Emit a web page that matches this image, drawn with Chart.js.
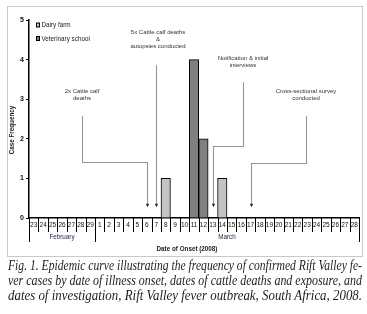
<!DOCTYPE html>
<html>
<head>
<meta charset="utf-8">
<script src="https://cdn.jsdelivr.net/npm/chart.js@4/dist/chart.umd.min.js"></script>
<style>
  html, body { margin: 0; padding: 0; background: #fff; }
  #wrap { position: relative; width: 367px; height: 314px; overflow: hidden; }
  #frame { position: absolute; left: 7px; top: 6px; width: 356px; height: 251px;
           box-sizing: border-box; border: 1px solid #c9c9c9; }
  #c { position: absolute; left: 0; top: 0; }
  .cap { position: absolute; left: 8px; height: 15px; line-height: 15px;
         font-family: "Liberation Serif", "DejaVu Serif", serif; font-style: italic;
         font-size: 13.8px; color: #1c1c1c; white-space: nowrap; }
  .cap span { display: inline-block; transform-origin: 0 0; }
</style>
</head>
<body>
<div id="wrap">
  <div id="frame"></div>
  <canvas id="c" width="367" height="314"></canvas>
  <div class="cap" style="top:258px"><span>Fig. 1. Epidemic curve illustrating the frequency of confirmed Rift Valley fe-</span></div>
  <div class="cap" style="top:273px"><span>ver cases by date of illness onset, dates of cattle deaths and exposure, and</span></div>
  <div class="cap" style="top:288px"><span>dates of investigation, Rift Valley fever outbreak, South Africa, 2008.</span></div>
</div>
<script>
// days of onset, 23 Feb - 28 Mar 2008
const days = ['23','24','25','26','27','28','29',
  '1','2','3','4','5','6','7','8','9','10','11','12','13','14',
  '15','16','17','18','19','20','21','22','23','24','25','26','27','28'];
const monthNames = ['February', 'March'];
const monthLengths = [7, 28];

// cases per day (null = none)
const dairyFarm = [null,null,null,null,null,null,null,
  null,null,null,null,null,null,null,1,null,null,null,null,null,1,
  null,null,null,null,null,null,null,null,null,null,null,null,null,null];
const vetSchool = [null,null,null,null,null,null,null,
  null,null,null,null,null,null,null,null,null,null,4,2,null,null,
  null,null,null,null,null,null,null,null,null,null,null,null,null,null];

const seriesNames = ['Dairy farm', 'Veterinary school'];
const yTicks = [0, 1, 2, 3, 4, 5];

// events and the day index they point at
const eventTexts = [
  ['2x Cattle calf', 'deaths'],
  ['5x Cattle calf deaths', '&', 'autopsies conducted'],
  ['Notification & initial', 'interviews'],
  ['Cross-sectional survey', 'conducted']
];
const eventDays = [12, 13, 19, 23];   // 6 Mar, 7 Mar, 13 Mar, 17 Mar

// callout layout in axis units (x = category index, y = case count)
const calloutLayout = [
  { tx: 5.12,  ty: 3.21, top: 2.58, elbow: 1.41 },
  { tx: 13.18, ty: 4.70, top: 3.86, elbow: null },
  { tx: 22.2,  ty: 4.04, top: 3.43, elbow: 1.83 },
  { tx: 28.88, ty: 3.21, top: 2.58, elbow: 1.40 }
];
const tipValue = 0.27;

const SANS = '"Liberation Sans", Arial, sans-serif';

const extras = {
  id: 'extras',
  afterDraw(chart) {
    const ctx = chart.ctx;
    const x = chart.scales.x, y = chart.scales.y;
    const area = chart.chartArea;
    const w = x.getPixelForValue(1) - x.getPixelForValue(0);
    const bound = i => x.getPixelForValue(i) - w / 2;
    const base = area.bottom;
    ctx.save();

    // day table
    ctx.strokeStyle = '#000';
    ctx.lineWidth = 1;
    ctx.beginPath();
    for (let i = 0; i <= days.length; i++) {
      const bx = Math.round(bound(i)) + 0.5;
      ctx.moveTo(bx, base);
      ctx.lineTo(bx, base + 14);
    }
    let start = 0;
    const seps = [0];
    monthLengths.forEach(n => { start += n; seps.push(start); });
    seps.forEach(i => {
      const bx = Math.round(bound(i)) + 0.5;
      ctx.moveTo(bx, base);
      ctx.lineTo(bx, base + 24);
    });
    ctx.stroke();

    ctx.fillStyle = '#111';
    ctx.font = '6.5px ' + SANS;
    ctx.textAlign = 'center';
    ctx.textBaseline = 'middle';
    days.forEach((d, i) => ctx.fillText(d, x.getPixelForValue(i), base + 7.5));

    ctx.fillStyle = '#1e1e3c';
    ctx.font = '6.3px ' + SANS;
    for (let m = 0; m < monthNames.length; m++) {
      const cx = (bound(seps[m]) + bound(seps[m + 1])) / 2;
      ctx.fillText(monthNames[m], cx, base + 19);
    }

    // axis titles
    ctx.fillStyle = '#222';
    ctx.font = 'bold 6.3px ' + SANS;
    ctx.fillText('Date of Onset (2008)', (area.left + area.right) / 2 - 7, base + 31);
    ctx.save();
    ctx.translate(12, 130);
    ctx.rotate(-Math.PI / 2);
    ctx.fillText('Case Frequency', 0, 0);
    ctx.restore();

    // callouts
    calloutLayout.forEach((c, k) => {
      const tx = x.getPixelForValue(c.tx);
      const tipX = Math.round(x.getPixelForValue(eventDays[k])) + 0.5;
      const tipY = y.getPixelForValue(tipValue);
      ctx.fillStyle = '#333';
      ctx.font = '6px ' + SANS;
      const lines = eventTexts[k];
      const ty0 = y.getPixelForValue(c.ty);
      lines.forEach((t, j) => ctx.fillText(t, tx, ty0 + j * 7.3));

      ctx.strokeStyle = '#969696';
      ctx.lineWidth = 1.1;
      ctx.beginPath();
      const topY = y.getPixelForValue(c.top);
      if (c.elbow === null) {
        ctx.moveTo(tipX, topY);
      } else {
        const lx = Math.round(tx) + 0.5;
        const ey = Math.round(y.getPixelForValue(c.elbow)) + 0.5;
        ctx.moveTo(lx, topY);
        ctx.lineTo(lx, ey);
        ctx.lineTo(tipX, ey);
      }
      ctx.lineTo(tipX, tipY - 3);
      ctx.stroke();

      ctx.fillStyle = '#222';
      ctx.beginPath();
      ctx.moveTo(tipX - 1.6, tipY - 3.5);
      ctx.lineTo(tipX + 1.6, tipY - 3.5);
      ctx.lineTo(tipX, tipY);
      ctx.closePath();
      ctx.fill();
    });

    // legend
    ctx.textAlign = 'left';
    ctx.font = '6.3px ' + SANS;
    chart.data.datasets.forEach((ds, k) => {
      const ly = 25 + k * 13.5;
      ctx.fillStyle = ds.backgroundColor;
      ctx.fillRect(36.5, ly - 2, 3, 4);
      ctx.strokeStyle = '#000';
      ctx.lineWidth = 1;
      ctx.strokeRect(36.5, ly - 2, 3, 4);
      ctx.fillStyle = '#222';
      ctx.fillText(ds.label, 41.5, ly + 0.5);
    });

    ctx.restore();
  }
};

new Chart(document.getElementById('c'), {
  type: 'bar',
  data: {
    labels: days,
    datasets: [
      { label: seriesNames[0], data: dairyFarm, backgroundColor: '#c4c4c4',
        borderColor: '#000', borderWidth: 1 },
      { label: seriesNames[1], data: vetSchool, backgroundColor: '#808080',
        borderColor: '#000', borderWidth: 1 }
    ]
  },
  options: {
    responsive: false,
    animation: false,
    devicePixelRatio: 1,
    layout: { padding: { left: 0, top: 20, right: 8, bottom: 0 } },
    datasets: { bar: { categoryPercentage: 1, barPercentage: 1 } },
    plugins: { legend: { display: false }, tooltip: { enabled: false } },
    scales: {
      x: {
        stacked: true,
        offset: true,
        grid: { display: false },
        ticks: { display: false },
        border: { display: true, color: '#000', width: 1.5 },
        afterFit(s) { s.height = 96; }
      },
      y: {
        stacked: true,
        min: 0,
        max: 5,
        afterBuildTicks(s) { s.ticks = yTicks.map(v => ({ value: v })); },
        ticks: { color: '#111', padding: 2, font: { size: 7, family: SANS, weight: 'bold' } },
        grid: { drawOnChartArea: false, drawTicks: true, tickLength: 3, color: '#000' },
        border: { display: true, color: '#000', width: 1.5 },
        afterFit(s) { s.width = 29; }
      }
    }
  },
  plugins: [extras]
});

// squeeze each caption line to the figure width
document.querySelectorAll('.cap span').forEach(s => {
  const wdt = s.getBoundingClientRect().width;
  s.style.transform = 'scaleX(' + (354 / wdt) + ')';
});
</script>
</body>
</html>
